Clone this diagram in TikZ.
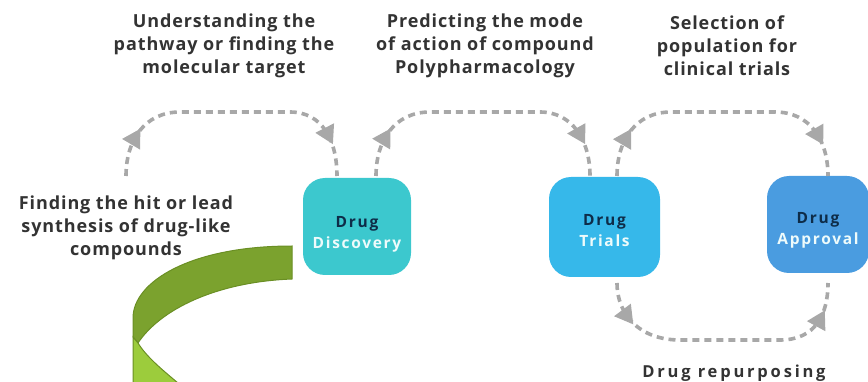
\documentclass[tikz,border=0pt]{standalone}
\usepackage{fontspec}
\setmainfont{Open Sans}
\newfontfamily\lblfont[LetterSpace=5]{Open Sans}
\newfontfamily\repfont[LetterSpace=17]{Open Sans}
\newfontfamily\boxfont[LetterSpace=11]{Open Sans}
\usetikzlibrary{arrows.meta,decorations.markings}
\definecolor{lblc}{HTML}{333333}
\definecolor{navy}{HTML}{0E2C48}
\definecolor{whitish}{HTML}{EEFBFB}
\definecolor{cdisc}{HTML}{3CC8CE}
\definecolor{ctrial}{HTML}{36B8EA}
\definecolor{cappr}{HTML}{4A9CE0}
\definecolor{dashg}{HTML}{A8A8A8}
\definecolor{gdark}{HTML}{7BA22E}
\definecolor{gedge}{HTML}{6A8F24}
\definecolor{glight}{HTML}{9CCC3C}
\begin{document}
\begin{tikzpicture}[x=1pt,y=-1pt,
  lbl/.style={font=\lblfont\bfseries\fontsize{18}{23}\selectfont, text=lblc, align=center, inner sep=0pt},
  stage/.style={rectangle, rounded corners=22pt, draw=none},
  boxtxt/.style={font=\boxfont\bfseries\fontsize{15.5}{21}\selectfont, align=center, inner sep=0pt},
  tri/.style={fill=dashg, draw=none},
  dasharc/.style={draw=dashg, line width=3.6pt, dash pattern=on 7pt off 5pt,
    decoration={markings,
      mark=at position #1 with {\fill[tri] (9pt,0pt) -- (-9pt,10.5pt) -- (-9pt,-10.5pt) -- cycle;},
      mark=at position 1-#1 with {\fill[tri] (9pt,0pt) -- (-9pt,10.5pt) -- (-9pt,-10.5pt) -- cycle;}},
    postaction={decorate}}
]
\useasboundingbox (0,0) rectangle (868,382);

% stage boxes
\node[stage, fill=cdisc, minimum width=108pt, minimum height=97pt] (disc) at (357,226.5) {};
\node[stage, fill=ctrial, minimum width=111pt, minimum height=100pt] (trial) at (604.5,227) {};
\node[stage, fill=cappr, minimum width=102pt, minimum height=97pt] (appr) at (818,224.5) {};

\node[boxtxt] (disct) at ([yshift=-8pt]disc.center) {\textcolor{navy}{Drug}\\\textcolor{whitish}{Discovery}};
\node[boxtxt] (trialt) at ([yshift=-4pt]trial.center) {\textcolor{navy}{Drug}\\\textcolor{whitish}{Trials}};
\node[boxtxt] (apprt) at ([yshift=-6pt]appr.center) {\textcolor{navy}{Drug}\\\textcolor{whitish}{Approval}};

% labels
\node[lbl] (l1) at (224,46) {Understanding the\\pathway or finding the\\molecular target};
\node[lbl] (l2) at (485,46) {Predicting the mode\\of action of compound\\Polypharmacology};
\node[lbl] (l3) at (727,46) {Selection of\\population for\\clinical trials};
\node[lbl] (l4) at (126,228) {Finding the hit or lead\\synthesis of drug-like\\compounds};
\node[lbl, font=\repfont\bfseries\fontsize{16.5}{20}\selectfont, anchor=base] (l5) at (734,377) {Drug repurposing};

% connector end points
\coordinate (a1s) at (126,176);
\coordinate (a1e) at (337,176);
\coordinate (a2s) at (376,176);
\coordinate (a2e) at (590,176);
\coordinate (a3s) at (617,176);
\coordinate (a3e) at (828,176);
\coordinate (b1s) at (617,283);
\coordinate (b1e) at (828,283);

% dashed arcs
\draw[dasharc=0.14] (a1s) .. controls ++(0,-36) and ++(-35,0) .. ++(54,-64) -- ++(110,0) .. controls ++(32,0) and ++(0,-36) .. (a1e);
\draw[dasharc=0.14] (a2s) .. controls ++(0,-36) and ++(-35,0) .. ++(54,-64) -- ++(110,0) .. controls ++(32,0) and ++(0,-36) .. (a2e);
\draw[dasharc=0.14] (a3s) .. controls ++(0,-36) and ++(-35,0) .. ++(54,-64) -- ++(104,0) .. controls ++(35,0) and ++(0,-36) .. (a3e);
\draw[dasharc=0.13] (b1s) .. controls ++(0,32) and ++(-40,0) .. ++(63,57) -- ++(100,0) .. controls ++(35,0) and ++(0,32) .. (b1e);

% green curved arrow
\filldraw[fill=gdark, draw=gedge, line width=1pt]
  (292,246) .. controls (190,246) and (133,282) .. (133,318) -- (133,337)
  -- (138,343) .. controls (160,310) and (215,282) .. (292,279) -- cycle;
\filldraw[fill=glight, draw=gedge, line width=1pt]
  (133,337) -- (133,383) -- (178,383) .. controls (160,368) and (146,356) .. (138,343) -- cycle;
\end{tikzpicture}
\end{document}
